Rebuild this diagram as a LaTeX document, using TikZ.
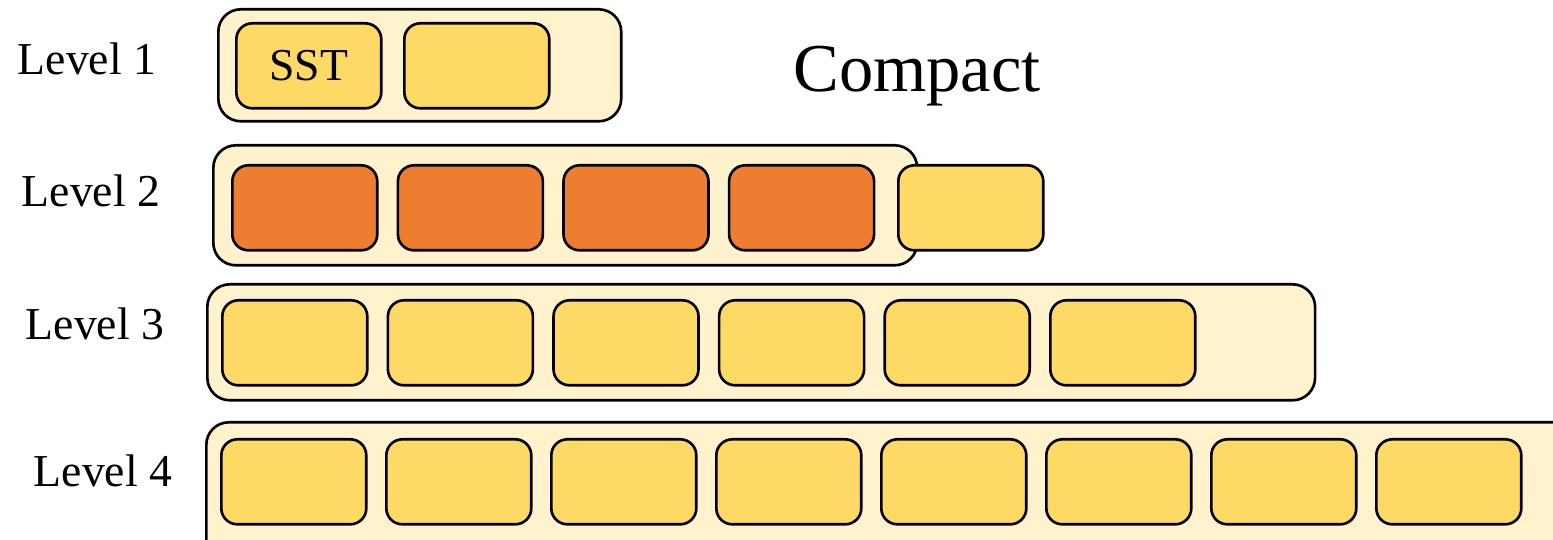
\documentclass[tikz,border=0pt]{standalone}
\usepackage{fontspec}
\setmainfont{Liberation Serif}

\definecolor{sstyellow}{HTML}{FFD966}
\definecolor{sstorange}{HTML}{ED7D31}
\definecolor{levelbg}{HTML}{FFF2CC}

\tikzset{
    levelbox/.style={draw, line width=1.5pt, rounded corners=0.45cm, fill=levelbg,
        anchor=north west, inner sep=0pt},
    sstbox/.style={draw, line width=1.5pt, rounded corners=0.32cm, fill=sstyellow,
        anchor=north west, inner sep=0pt, minimum width=2.9cm, minimum height=1.7cm,
        font=\fontsize{26}{30}\selectfont},
    levellabel/.style={font=\fontsize{26}{30}\selectfont}
}

\begin{document}
\begin{tikzpicture}[x=0.02cm, y=-0.02cm]
    \useasboundingbox (0,0) rectangle (1553,540);

    % Passo tra le SST di un livello
    \def\pitch{165.6}

    % Etichette dei livelli
    \node[levellabel] (lab1) at (87,59) {Level 1};
    \node[levellabel] (lab2) at (91,191) {Level 2};
    \node[levellabel] (lab3) at (95,324) {Level 3};
    \node[levellabel] (lab4) at (103,471) {Level 4};

    % Contenitori dei livelli
    \node[levelbox, minimum width=8.06cm, minimum height=2.24cm] (lev1) at (217,8) {};
    \node[levelbox, minimum width=14.08cm, minimum height=2.4cm] (lev2) at (212,144) {};
    \node[levelbox, minimum width=22.16cm, minimum height=2.32cm] (lev3) at (206,283) {};
    \node[levelbox, minimum width=28.4cm, minimum height=2.9cm] (lev4) at (205,421) {};

    % Level 1
    \node[sstbox] (l1s0) at (235,22) {SST};
    \node[sstbox] (l1s1) at (403,22) {};

    % Level 2: le SST in compattazione
    \foreach \i in {0,...,3}
        \node[sstbox, fill=sstorange] (l2s\i) at ({231+\pitch*\i},164) {};
    \node[sstbox] (l2s4) at (897,164) {};

    % Level 3
    \foreach \i in {0,...,5}
        \node[sstbox] (l3s\i) at ({221+\pitch*\i},299) {};

    % Level 4
    \foreach \i in {0,...,7}
        \node[sstbox] (l4s\i) at ({220+165*\i},438) {};

    \node[font=\fontsize{39}{44}\selectfont] (compact) at (917,76) {Compact};

\end{tikzpicture}
\end{document}
